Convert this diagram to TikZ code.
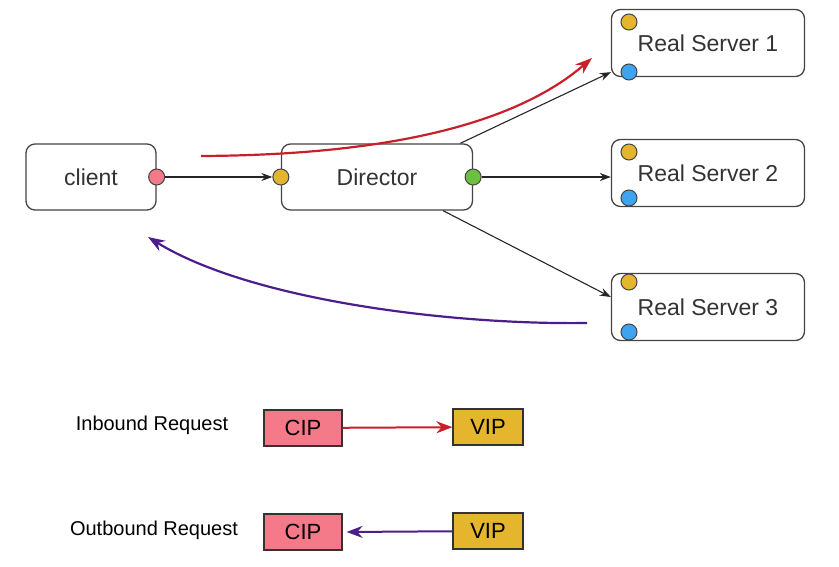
\documentclass[tikz,border=0pt]{standalone}
\usepackage{fontspec}
\setmainfont{Liberation Sans}
\usepackage{xcolor}
\usetikzlibrary{positioning,calc,arrows.meta}
\definecolor{dotpink}{HTML}{F47A8A}
\definecolor{dotyellow}{HTML}{E6B52E}
\definecolor{dotgreen}{HTML}{6CC040}
\definecolor{dotblue}{HTML}{3FA4F0}
\definecolor{inred}{HTML}{C8202A}
\definecolor{outpurple}{HTML}{4B1E8C}
\definecolor{edgegray}{HTML}{444444}

\begin{document}
\begin{tikzpicture}[x=1pt, y=-1pt,
    box/.style={draw=edgegray, line width=1.3pt, rounded corners=9pt, fill=white,
        text=black!80, font=\fontsize{23}{27}\selectfont},
    dot/.style={circle, draw=edgegray, line width=1pt, inner sep=0pt, minimum size=16pt},
    tag/.style={draw=black!80, line width=1.2pt, minimum height=36pt, inner sep=0pt,
        font=\fontsize{22}{26}\selectfont},
    link/.style={-{Stealth[length=11pt, width=8pt]}, black!85, line width=1.1pt}]
    \useasboundingbox (0,0) rectangle (839,567);

    % Main nodes
    \node[box, minimum width=130pt, minimum height=66pt] (client) at (91,177) {client};
    \node[box, minimum width=191pt, minimum height=66pt] (dir) at (377,177) {Director};
    \foreach \n/\y/\ya/\yb in {1/43/22/72, 2/173/152/198, 3/307/282/332} {
        \node[box, minimum width=193pt, minimum height=67pt] (rs\n) at (708,\y) {Real Server \n};
        \node[dot, fill=dotyellow] (rs\n a) at (629,\ya) {};
        \node[dot, fill=dotblue] (rs\n b) at (629,\yb) {};
    }

    % Ports
    \node[dot, fill=dotpink] (cport) at (client.east) {};
    \node[dot, fill=dotyellow] (dport) at (dir.west) {};
    \node[dot, fill=dotgreen] (gport) at (dir.east) {};

    % Links
    \draw[link] (cport) -- (dport);
    \draw[link] (dir.22) -- ([yshift=5pt]rs1.south west);
    \draw[link] (gport) -- (rs2.west |- gport);
    \draw[link] (dir.-27) -- ([yshift=10pt]rs3.west);

    % Request paths
    \coordinate (inA) at (201,156);
    \coordinate (inB) at (592,58);
    \coordinate (outA) at (587,323);
    \coordinate (outB) at (148,237);
    \draw[inred, line width=2.2pt, -{Stealth[length=17pt, width=12pt]}]
        (inA) .. controls (400,155) and (520,120) .. (inB);
    \draw[outpurple, line width=2.2pt, -{Stealth[length=17pt, width=12pt]}]
        (outA) .. controls (450,325) and (250,300) .. (outB);

    % Legend
    \node[font=\fontsize{20}{24}\selectfont] (inlbl) at (152,425) {Inbound Request};
    \node[tag, fill=dotpink, minimum width=78pt] (cip1) at (303,428) {CIP};
    \node[tag, fill=dotyellow, minimum width=70pt] (vip1) at (488,427) {VIP};
    \draw[inred, line width=2pt, -{Stealth[length=16pt, width=12pt]}] (cip1) -- (vip1);

    \node[font=\fontsize{20}{24}\selectfont] (outlbl) at (154,530) {Outbound Request};
    \node[tag, fill=dotpink, minimum width=78pt] (cip2) at (303,532) {CIP};
    \node[tag, fill=dotyellow, minimum width=70pt] (vip2) at (488,531) {VIP};
    \draw[outpurple, line width=2pt, -{Stealth[length=16pt, width=12pt]}] (vip2) -- ([xshift=4pt]cip2.east);
\end{tikzpicture}
\end{document}
